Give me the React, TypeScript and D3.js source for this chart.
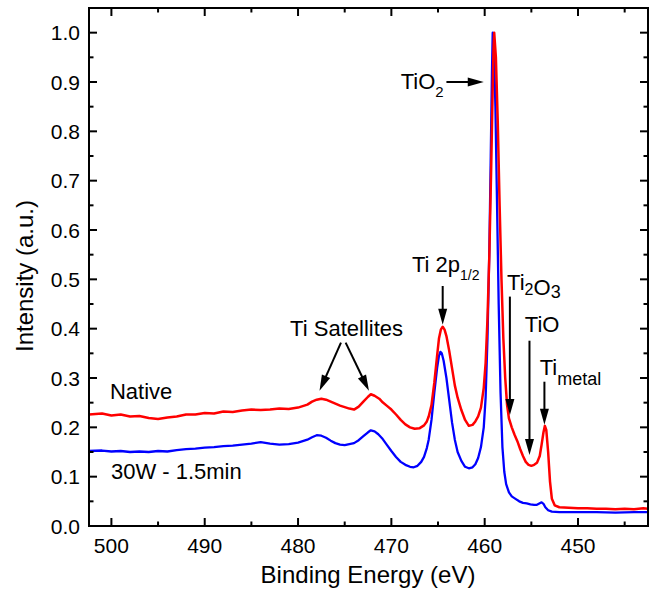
import React from 'react';
import * as d3 from 'd3';

// ---- Data (binding energy in eV, normalized intensity) ----
const nativeEnergy = [
  502.4, 501, 500, 499, 498, 497, 496, 495, 494, 493, 492, 491, 490, 489, 488, 487, 486, 485, 484, 483, 482, 481, 480, 479,
  478.5, 478, 477.5, 477, 476.5, 476, 475.5, 475, 474.5, 474, 473.5, 473, 472.5, 472.2, 471.8, 471.3, 471, 470.5, 470,
  469.5, 469, 468.5, 468, 467.5, 467, 466.5, 466.2, 466, 465.7, 465.4, 465.1, 464.9, 464.7, 464.5, 464.3, 464.1, 463.8,
  463.5, 463.2, 462.9, 462.5, 462.1, 461.7, 461.3, 461, 460.7, 460.4, 460.1, 459.9, 459.7, 459.5, 459.3, 459.15, 459.05,
  458.98, 458.8, 458.6, 458.4, 458.2, 458.0, 457.8, 457.6, 457.4, 457.1, 456.8, 456.5, 456.2, 455.9, 455.6, 455.3, 455.0,
  454.7, 454.4, 454.1, 453.9, 453.7, 453.55, 453.4, 453.2, 453.0, 452.8, 452.5, 452, 451, 450, 449, 448, 447, 446, 445,
  444, 443, 442.5,
];
const nativeIntensity = [
  0.226, 0.228, 0.224, 0.226, 0.222, 0.223, 0.219, 0.217, 0.22, 0.222, 0.226, 0.226, 0.229, 0.228, 0.232, 0.231, 0.234,
  0.236, 0.235, 0.236, 0.238, 0.237, 0.24, 0.246, 0.252, 0.256, 0.258, 0.256, 0.252, 0.248, 0.244, 0.241, 0.238, 0.236,
  0.242, 0.252, 0.262, 0.267, 0.264, 0.258, 0.252, 0.244, 0.236, 0.226, 0.215, 0.206, 0.2, 0.197, 0.198, 0.204, 0.212,
  0.222, 0.245, 0.29, 0.345, 0.38, 0.398, 0.404, 0.398, 0.385, 0.355, 0.32, 0.285, 0.26, 0.235, 0.215, 0.203, 0.205,
  0.212, 0.222, 0.24, 0.28, 0.33, 0.42, 0.55, 0.73, 0.88, 0.97, 1.0, 0.95, 0.82, 0.65, 0.5, 0.38, 0.3, 0.245, 0.218, 0.2,
  0.185, 0.172, 0.156, 0.142, 0.13, 0.124, 0.122, 0.124, 0.128, 0.142, 0.165, 0.19, 0.203, 0.195, 0.15, 0.09, 0.055,
  0.042, 0.038, 0.037, 0.036, 0.036, 0.035, 0.035, 0.034, 0.035, 0.034, 0.036, 0.035,
];
const sputterEnergy = [
  502.4, 501, 500, 499, 498, 497, 496, 495, 494, 493, 492, 491, 490, 489, 488, 487, 486, 485, 484, 483, 482, 481, 480, 479,
  478.5, 478, 477.5, 477, 476.5, 476, 475.5, 475, 474.5, 474, 473.5, 473, 472.5, 472.2, 471.8, 471.4, 471, 470.5, 470,
  469.5, 469, 468.5, 468, 467.6, 467.2, 466.8, 466.5, 466.2, 466, 465.7, 465.4, 465.1, 464.9, 464.75, 464.6, 464.4,
  464.1, 463.8, 463.5, 463.2, 462.9, 462.5, 462.1, 461.7, 461.3, 461, 460.7, 460.4, 460.1, 459.9, 459.7, 459.5, 459.35,
  459.22, 459.14, 459.0, 458.85, 458.7, 458.5, 458.3, 458.1, 457.9, 457.7, 457.4, 457.1, 456.7, 456.3, 455.9, 455.5,
  455.1, 454.7, 454.4, 454.1, 453.9, 453.7, 453.5, 453.2, 452.8, 452, 450, 448, 446, 444, 442.5,
];
const sputterIntensity = [
  0.152, 0.153, 0.151, 0.152, 0.15, 0.151, 0.15, 0.152, 0.151, 0.154, 0.156, 0.157, 0.159, 0.16, 0.162, 0.163, 0.165,
  0.167, 0.17, 0.167, 0.165, 0.166, 0.169, 0.175, 0.18, 0.184, 0.183, 0.179, 0.173, 0.168, 0.165, 0.164, 0.166, 0.168,
  0.174, 0.182, 0.19, 0.194, 0.192, 0.186, 0.178, 0.165, 0.152, 0.14, 0.13, 0.124, 0.12, 0.119, 0.122, 0.13, 0.14, 0.158,
  0.175, 0.215, 0.27, 0.32, 0.345, 0.353, 0.35, 0.335, 0.3, 0.255, 0.21, 0.175, 0.15, 0.132, 0.12, 0.117, 0.119, 0.125,
  0.138, 0.16, 0.2, 0.26, 0.38, 0.56, 0.75, 0.92, 1.0, 0.96, 0.85, 0.68, 0.45, 0.27, 0.16, 0.11, 0.085, 0.068, 0.06,
  0.055, 0.05, 0.047, 0.046, 0.044, 0.043, 0.043, 0.046, 0.048, 0.045, 0.038, 0.032, 0.029, 0.028, 0.028, 0.028, 0.027,
  0.028, 0.028,
];

const xMajorTicks = [500, 490, 480, 470, 460, 450];
const xMinorTicks = [495, 485, 475, 465, 455, 445];
const yMajorTicks = [0, 0.1, 0.2, 0.3, 0.4, 0.5, 0.6, 0.7, 0.8, 0.9, 1.0];
const yMinorTicks = [0.05, 0.15, 0.25, 0.35, 0.45, 0.55, 0.65, 0.75, 0.85, 0.95];

// Arrows: [fromE, fromI, toE, toI]
const arrows: [number, number, number, number][] = [
  [464.1, 0.9, 460.1, 0.9],
  [464.5, 0.4865, 464.5, 0.408],
  [457.3, 0.465, 457.3, 0.225],
  [455.2, 0.3756, 455.2, 0.144],
  [453.6, 0.2925, 453.6, 0.205],
  [475.4, 0.3716, 477.7, 0.274],
  [474.9, 0.3716, 472.4, 0.274],
];

const FONT = "Arial, 'Liberation Sans', sans-serif";

const W = 652;
const H = 591;
const L = 89, R = 648, T = 8, B = 526;

export default function App() {
  const x = d3.scaleLinear().domain([502.4, 442.5]).range([L, R]);
  const y = d3.scaleLinear().domain([0, 1.05]).range([B, T]);
  const fmt = d3.format('.1f');

  const native: [number, number][] = nativeEnergy.map((e, i) => [e, nativeIntensity[i]]);
  const sputter: [number, number][] = sputterEnergy.map((e, i) => [e, sputterIntensity[i]]);
  const line = d3.line<[number, number]>().x(d => x(d[0])).y(d => y(d[1]));

  const arrowEls = arrows.map(([e1, i1, e2, i2], k) => {
    const x1 = x(e1), y1 = y(i1), x2 = x(e2), y2 = y(i2);
    const dx = x2 - x1, dy = y2 - y1;
    const len = Math.hypot(dx, dy);
    const ux = dx / len, uy = dy / len;
    const hl = 16, hw = 4.5;
    const bx = x2 - ux * hl, by = y2 - uy * hl;
    const px = -uy, py = ux;
    const head = `M${x2},${y2}L${bx + px * hw},${by + py * hw}L${bx - px * hw},${by - py * hw}Z`;
    return (
      <g key={k}>
        <line x1={x1} y1={y1} x2={bx + ux * 2} y2={by + uy * 2} stroke="#000" strokeWidth={2} />
        <path d={head} fill="#000" />
      </g>
    );
  });

  return (
    <svg width={W} height={H} style={{ position: 'absolute', left: 0, top: 0, background: '#fff' }} fontFamily={FONT}>
      <rect x={0} y={0} width={W} height={H} fill="#fff" />
      <defs>
        <clipPath id="plot">
          <rect x={L} y={T} width={R - L} height={B - T} />
        </clipPath>
      </defs>
      <g clipPath="url(#plot)">
        <path d={line(sputter) || ''} fill="none" stroke="#0000ff" strokeWidth={2.3} strokeLinejoin="round" />
        <path d={line(native) || ''} fill="none" stroke="#ff0000" strokeWidth={2.5} strokeLinejoin="round" />
      </g>

      {/* ticks */}
      <g stroke="#000" strokeWidth={2}>
        {xMajorTicks.map(v => (
          <g key={'xM' + v}>
            <line x1={x(v)} x2={x(v)} y1={B} y2={B - 8} />
            <line x1={x(v)} x2={x(v)} y1={T} y2={T + 8} />
          </g>
        ))}
        {xMinorTicks.map(v => (
          <g key={'xm' + v}>
            <line x1={x(v)} x2={x(v)} y1={B} y2={B - 4.5} />
            <line x1={x(v)} x2={x(v)} y1={T} y2={T + 4.5} />
          </g>
        ))}
        {yMajorTicks.map(v => (
          <g key={'yM' + v}>
            <line x1={L} x2={L + 8} y1={y(v)} y2={y(v)} />
            <line x1={R} x2={R - 8} y1={y(v)} y2={y(v)} />
          </g>
        ))}
        {yMinorTicks.map(v => (
          <g key={'ym' + v}>
            <line x1={L} x2={L + 4.5} y1={y(v)} y2={y(v)} />
            <line x1={R} x2={R - 4.5} y1={y(v)} y2={y(v)} />
          </g>
        ))}
      </g>
      <rect x={L} y={T} width={R - L} height={B - T} fill="none" stroke="#000" strokeWidth={2} />

      {/* tick labels */}
      <g fontSize={21} fill="#000">
        {xMajorTicks.map(v => (
          <text key={'xl' + v} x={x(v)} y={553} textAnchor="middle">{v}</text>
        ))}
        {yMajorTicks.map(v => (
          <text key={'yl' + v} x={80} y={y(v) + 7.5} textAnchor="end">{fmt(v)}</text>
        ))}
      </g>

      {/* axis titles */}
      <text x={368} y={583} fontSize={24} textAnchor="middle">Binding Energy (eV)</text>
      <text transform="translate(33,276) rotate(-90)" fontSize={24} textAnchor="middle">Intensity (a.u.)</text>

      {/* annotations */}
      {arrowEls}
      <g fontSize={22} fill="#000">
        <text x={x(500.15)} y={y(0.2575)}>Native</text>
        <text x={x(500.05)} y={y(0.0953)}>30W - 1.5min</text>
        <text x={x(474.8)} y={y(0.385)} textAnchor="middle">Ti Satellites</text>
        <text x={x(469.0)} y={y(0.886)}>TiO<tspan fontSize={15} dy={8}>2</tspan></text>
        <text x={x(467.8)} y={y(0.515)}>Ti 2p<tspan fontSize={14} dy={8}>1/2</tspan></text>
        <text x={x(457.6)} y={y(0.478)}>Ti<tspan fontSize={16} dy={5}>2</tspan><tspan fontSize={22} dy={0}>O</tspan><tspan fontSize={18} dy={3}>3</tspan></text>
        <text x={x(455.7)} y={y(0.393)}>TiO</text>
        <text x={x(454.1)} y={y(0.306)}>Ti<tspan fontSize={18} dy={10}>metal</tspan></text>
      </g>
    </svg>
  );
}
